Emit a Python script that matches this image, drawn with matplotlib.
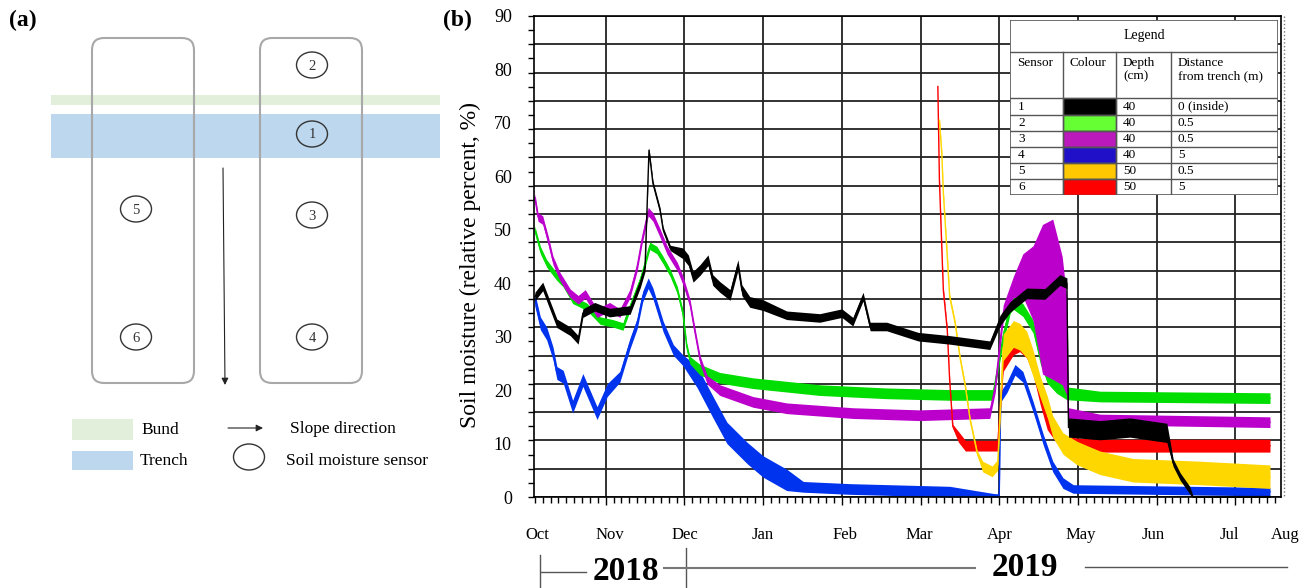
import numpy as np
import matplotlib.pyplot as plt
import matplotlib.transforms as mtransforms
from matplotlib.patches import FancyBboxPatch, Ellipse, Rectangle

plt.rcParams['font.family'] = ['Liberation Serif', 'DejaVu Serif']

# x positions are in chart "month" units: 1 = Nov gridline, 2 = Dec, ... 9 = Jul
months = ['Oct', 'Nov', 'Dec', 'Jan', 'Feb', 'Mar', 'Apr', 'May', 'Jun', 'Jul', 'Aug']
month_pos = [0.13, 1.055, 2.01, 2.99, 4.04, 4.99, 6.01, 7.03, 7.95, 8.93, 9.63]

# sensor 1 (inside trench, 40 cm); *_s = half width of the noise band
s1_t = [0.10, 0.20, 0.38, 0.55, 0.65, 0.71, 0.86, 1.05, 1.31, 1.44, 1.50, 1.55, 1.60, 1.69,
        1.73, 1.82, 1.98, 2.05, 2.11, 2.20, 2.30, 2.36, 2.45, 2.58, 2.68, 2.73, 2.83, 3.00,
        3.30, 3.72, 4.00, 4.14, 4.27, 4.36, 4.57, 4.78, 4.97, 5.37, 5.88, 6.01, 6.14, 6.35,
        6.58, 6.77, 6.86, 6.88, 7.28, 7.66, 8.13, 8.21, 8.30, 8.42, 8.46, 9.44]
s1_v = [37.5, 39.4, 32.5, 31, 29.4, 34.4, 35.6, 34.5, 35, 40, 43, 64.9, 58.7, 53.7,
        50, 46.6, 45.6, 44.3, 41.2, 42.5, 44.3, 40.6, 39.3, 37.8, 43.4, 38.7, 36.5, 35.9,
        34, 33.5, 34.4, 32.8, 37.5, 31.9, 31.9, 30.9, 30, 29.4, 28.4, 33, 35.6, 38.1,
        38, 40.6, 40, 13, 12.5, 13, 12, 6.4, 3.8, 1.3, 0, 0]
s1_s = [0.8, 0.8, 0.8, 0.8, 0.8, 0.8, 0.8, 0.8, 0.8, 0.8, 0.8, 0.5, 0.5, 0.5,
        0.5, 0.5, 1.0, 1.0, 1.0, 1.0, 1.0, 1.0, 1.0, 1.0, 1.0, 1.0, 1.0, 1.0,
        0.8, 0.8, 0.8, 0.8, 0.8, 0.8, 0.8, 0.8, 0.8, 0.8, 0.8, 1.0, 1.0, 1.0,
        1.0, 1.0, 1.0, 1.8, 1.8, 1.8, 1.8, 0.7, 0.7, 0.7, 0.3, 0.3]

# sensor 2
s2_t = [0.10, 0.17, 0.25, 0.38, 0.46, 0.58, 0.76, 0.93, 1.09, 1.22, 1.31, 1.44, 1.50, 1.56,
        1.65, 1.73, 1.82, 1.91, 1.98, 2.03, 2.07, 2.20, 2.45, 2.87, 3.72, 4.57, 5.37, 5.92,
        6.05, 6.14, 6.18, 6.30, 6.43, 6.52, 6.61, 6.73, 6.86, 7.28, 9.44]
s2_v = [50, 46.2, 43.7, 41.2, 40, 36.9, 35.6, 33, 32.5, 31.9, 35.6, 40.6, 43.7, 47,
        46.2, 44.3, 41.9, 38.7, 34.4, 28.1, 25.6, 23.8, 22.3, 21.3, 20, 19.4, 19.1, 19.1,
        30, 35.6, 36.3, 35, 31.9, 26.2, 22.5, 20.6, 19.4, 18.8, 18.5]
s2_s = [0.7, 0.7, 0.7, 0.7, 0.7, 0.7, 0.7, 0.7, 0.7, 0.7, 0.7, 0.7, 0.7, 0.7,
        0.7, 0.7, 0.7, 0.7, 0.7, 0.7, 0.7, 1.0, 1.0, 1.0, 1.0, 1.0, 1.0, 1.0,
        1.2, 1.2, 1.2, 1.2, 1.2, 1.2, 1.2, 1.2, 1.2, 1.0, 1.0]

# sensor 3
s3_t = [0.10, 0.14, 0.20, 0.27, 0.33, 0.42, 0.55, 0.65, 0.74, 0.89, 1.05, 1.18, 1.31, 1.40,
        1.46, 1.54, 1.60, 1.69, 1.78, 1.91, 1.98, 2.07, 2.13, 2.20, 2.29, 2.45, 2.87, 3.30,
        4.14, 4.99, 5.88, 5.95, 6.05, 6.18, 6.30, 6.43, 6.55, 6.68, 6.80, 6.86, 6.88, 7.28, 9.44]
s3_v = [56, 52.4, 51.8, 48, 44.3, 41.2, 38.1, 36.9, 38, 34.4, 35.6, 34.4, 38.1, 43.1,
        48, 53.4, 52.4, 49.4, 46.2, 43.1, 40.6, 36.3, 31.2, 25.6, 21.9, 20, 17.8, 16.6,
        15.7, 15.3, 15.7, 20.6, 34.4, 39.3, 41.5, 40, 37, 37, 33, 28, 15.7, 14.5, 14]
s3_s = [0.8, 0.8, 0.8, 0.8, 0.8, 0.8, 0.8, 0.8, 0.8, 0.8, 0.8, 0.8, 0.8, 0.8,
        0.8, 0.8, 0.8, 0.8, 0.8, 0.8, 0.8, 0.8, 0.8, 0.8, 0.8, 1.0, 1.0, 1.0,
        1.0, 1.0, 1.0, 1.0, 1.5, 2, 4, 7, 14, 15, 12, 9, 1.0, 1.0, 1.0]

# sensor 4
s4_t = [0.10, 0.17, 0.25, 0.33, 0.38, 0.46, 0.58, 0.71, 0.89, 1.02, 1.18, 1.31, 1.40, 1.47,
        1.54, 1.60, 1.73, 1.86, 1.98, 2.16, 2.36, 2.54, 2.80, 3.00, 3.30, 3.51, 4.10, 5.37,
        5.95, 6.00, 6.02, 6.10, 6.20, 6.30, 6.43, 6.56, 6.68, 6.81, 6.94, 9.44]
s4_v = [36.9, 32.5, 30.6, 26.9, 23.2, 22.5, 16.9, 21.9, 15.7, 20, 22.5, 28.8, 32.5, 37.5,
        40, 38.1, 31.9, 27.5, 25.6, 22.5, 16.9, 12, 8.2, 5.7, 3.2, 1.9, 1.5, 1,
        0.3, 0.3, 18.8, 20.6, 23.8, 22.5, 16.9, 10.7, 5.7, 2.6, 1.5, 1]
s4_s = [1.2, 1.2, 1.2, 1.2, 1.2, 1.2, 1.2, 1.2, 1.2, 1.2, 1.0, 1.0, 1.0, 1.0,
        1.0, 1.0, 1.0, 1.0, 1.0, 2, 2, 2, 2, 2, 2, 1.0, 1.0, 1.0,
        0.3, 0.3, 1.0, 1.0, 1.0, 1.0, 1.0, 1.0, 1.0, 1.0, 0.8, 0.8]

# sensor 5
s5_t = [5.24, 5.27, 5.29, 5.34, 5.37, 5.44, 5.50, 5.57, 5.63, 5.72, 5.79, 5.91, 5.98, 6.05,
        6.18, 6.26, 6.35, 6.43, 6.52, 6.61, 6.68, 6.81, 6.99, 7.28, 7.70, 8.55, 9.44]
s5_v = [70.5, 64.3, 56.9, 45, 37.5, 32.5, 26.2, 20.6, 14.4, 8.2, 5.7, 4.8, 6, 28,
        30.5, 30, 28.5, 25, 20.6, 16.9, 13.2, 10, 8.2, 6.4, 5, 4.5, 3.8]
s5_s = [0.5, 0.5, 0.5, 0.5, 0.5, 0.5, 0.5, 0.5, 0.5, 0.5, 1.0, 1.0, 1.0, 2.5,
        2.5, 2.5, 2.5, 2.5, 2.0, 2.0, 2.0, 2.0, 2.2, 2.2, 2.2, 2.2, 2.2]

# sensor 6
s6_t = [5.22, 5.24, 5.27, 5.29, 5.34, 5.37, 5.41, 5.48, 5.57, 5.98, 6.05, 6.18, 6.26, 6.35,
        6.43, 6.52, 6.61, 6.73, 6.86, 7.28, 9.44]
s6_v = [76.8, 59.3, 46.8, 38.7, 31.2, 21.9, 13.2, 11.3, 9.6, 9.6, 25, 28.1, 28.7, 27.5,
        24.4, 18.8, 13.8, 11.3, 10, 9.6, 9.6]
s6_s = [0.4, 0.4, 0.4, 0.4, 0.4, 0.4, 0.4, 1.0, 1.0, 1.0, 1.5, 1.5, 1.5, 1.5,
        1.5, 1.5, 1.2, 1.2, 1.2, 1.2, 1.2]

line_colors = ['#000000', '#00dd00', '#bb00cc', '#0033ee', '#ffd700', '#ff0000']
sensors = ['1', '2', '3', '4', '5', '6']
swatch_colors = ['#000000', '#66ff33', '#bb19bb', '#2010c8', '#ffc800', '#ff0000']
depths = ['40', '40', '40', '40', '50', '50']
distances = ['0 (inside)', '0.5', '0.5', '5', '0.5', '5']

fig = plt.figure(figsize=(13.1, 5.88), dpi=100)

# ---- panel (a) and page-level annotations, drawn in pixel units ----
bg = fig.add_axes([0, 0, 1, 1])
bg.set_xlim(0, 1310)
bg.set_ylim(588, 0)
bg.axis('off')

bund_c, trench_c = '#e2efda', '#bdd7ee'
bg.add_patch(Rectangle((51, 95), 389, 10, color=bund_c, lw=0))
bg.add_patch(Rectangle((51, 114), 389, 44, color=trench_c, lw=0))
for x0 in (92, 260):
    bg.add_patch(FancyBboxPatch((x0, 38), 102, 345, boxstyle='round,pad=0,rounding_size=12',
                                fc='none', ec='#a8a8a8', lw=1.5))

sensor_xy = {'2': (312, 65), '1': (312, 134), '5': (136, 209), '3': (312, 215),
             '6': (136, 337), '4': (312, 337)}
for lab, (cx, cy) in sensor_xy.items():
    bg.add_patch(Ellipse((cx, cy), 31, 26, fc='none', ec='#333333', lw=1))
    bg.text(cx, cy + 1, lab, ha='center', va='center', fontsize=10.5, color='#333333')

arrow_kw = dict(arrowstyle='-|>', color='#222222', lw=0.8, mutation_scale=10, shrinkA=0, shrinkB=0)
bg.annotate('', xy=(225, 385), xytext=(223, 168), arrowprops=arrow_kw)

bg.add_patch(Rectangle((72, 419), 61, 21, color=bund_c, lw=0))
bg.add_patch(Rectangle((72, 451), 61, 19, color=trench_c, lw=0))
bg.text(141, 430, 'Bund', va='center', fontsize=12.5)
bg.text(140, 461, 'Trench', va='center', fontsize=12.5)
bg.annotate('', xy=(263, 428), xytext=(228, 428), arrowprops=arrow_kw)
bg.text(290, 429, 'Slope direction', va='center', fontsize=12.5)
bg.add_patch(Ellipse((249, 457), 31, 26, fc='none', ec='#333333', lw=1))
bg.text(286, 461, 'Soil moisture sensor', va='center', fontsize=12.5)

bg.text(9, 20, '(a)', fontsize=17, fontweight='bold', va='center')
bg.text(443, 20, '(b)', fontsize=17, fontweight='bold', va='center')

# year brackets under the time axis
bg.plot([540, 540], [555, 588], color='#555555', lw=1)
bg.plot([686, 686], [548, 588], color='#555555', lw=1)
bg.plot([541, 586], [572, 572], color='#555555', lw=1)
bg.plot([664, 975], [568, 568], color='#777777', lw=1.5)
bg.plot([1085, 1287], [567, 567], color='#555555', lw=1)
bg.text(626, 572, '2018', ha='center', va='center', fontsize=24, fontweight='bold')
bg.text(1025, 567, '2019', ha='center', va='center', fontsize=24, fontweight='bold')
bg.plot([1284, 1284], [16, 497], color='#777777', lw=1, ls=':')

# ---- panel (b) ----
ax = fig.add_axes([534 / 1310, 91 / 588, 747 / 1310, 481 / 588])
ax.set_xlim(0.089, 9.58)
ax.set_ylim(0, 90)

for g in np.linspace(0, 90, 18):
    ax.axhline(g, color='#222222', lw=1.3, zorder=1)
for m in range(1, 10):
    ax.axvline(m, color='#222222', lw=1.3, zorder=1)

order = [(s4_t, s4_v, s4_s, line_colors[3]),
         (s2_t, s2_v, s2_s, line_colors[1]),
         (s3_t, s3_v, s3_s, line_colors[2]),
         (s6_t, s6_v, s6_s, line_colors[5]),
         (s5_t, s5_v, s5_s, line_colors[4]),
         (s1_t, s1_v, s1_s, line_colors[0])]
for z, (t, v, s, c) in enumerate(order):
    t, v, s = np.array(t), np.array(v), np.array(s)
    ax.fill_between(t, v - s, v + s, color=c, lw=0, zorder=3 + z)
    ax.plot(t, v, color=c, lw=1.0, zorder=3 + z)

for sp in ax.spines.values():
    sp.set_linewidth(1.2)
    sp.set_zorder(20)

ax.set_yticks(np.arange(0, 91, 10))
ax.set_yticks(np.linspace(0, 90, 35), minor=True)
ax.yaxis.remove_overlapping_locs = False
ax.tick_params(axis='y', which='major', length=0, pad=16, labelsize=13)
ax.tick_params(axis='y', which='minor', length=4, width=1)
ax.set_xticks(range(1, 10))
ax.set_xticklabels([])
ax.set_xticks(np.arange(0.1, 9.55, 0.1), minor=True)
ax.tick_params(axis='x', which='major', length=6, width=1)
ax.tick_params(axis='x', which='minor', length=4, width=1)

trans = mtransforms.blended_transform_factory(ax.transData, ax.transAxes)
for name, pos in zip(months, month_pos):
    ax.text(pos, -0.079, name, transform=trans, ha='center', va='center', fontsize=12,
            clip_on=False)

ax.set_ylabel('Soil moisture (relative percent, %)', fontsize=17)
ax.yaxis.set_label_coords(-0.071, 0.482)

# ---- legend table ----
tab = fig.add_axes([1010 / 1310, (588 - 195) / 588, 268 / 1310, 175 / 588])
tab.set_xlim(0, 268)
tab.set_ylim(175, 0)
tab.axis('off')
tab.add_patch(Rectangle((0, 0), 268, 175, fc='white', ec='#555555', lw=1.2))
row_edges = [78, 95, 111, 127, 143, 159, 175]
col_edges = [0, 53, 106, 161, 268]
tab.plot([0, 268], [32, 32], color='#555555', lw=1)
for y in row_edges[:-1]:
    tab.plot([0, 268], [y, y], color='#555555', lw=1)
for x in col_edges[1:-1]:
    tab.plot([x, x], [32, 175], color='#555555', lw=1)
tab.text(134, 15, 'Legend', ha='center', va='center', fontsize=10)
heads = ['Sensor', 'Colour', 'Depth\n(cm)', 'Distance\nfrom trench (m)']
for x, h in zip(col_edges[:-1], heads):
    tab.text(x + 7, 37, h, ha='left', va='top', fontsize=9.5, linespacing=1.1)
for i in range(6):
    y0, y1 = row_edges[i], row_edges[i + 1]
    yc = (y0 + y1) / 2
    tab.add_patch(Rectangle((53, y0), 53, y1 - y0, fc=swatch_colors[i], ec='#555555', lw=1))
    tab.text(8, yc, sensors[i], va='center', fontsize=9.5)
    tab.text(113, yc, depths[i], va='center', fontsize=9.5)
    tab.text(168, yc, distances[i], va='center', fontsize=9.5)

fig.savefig('out.png', dpi=100)
